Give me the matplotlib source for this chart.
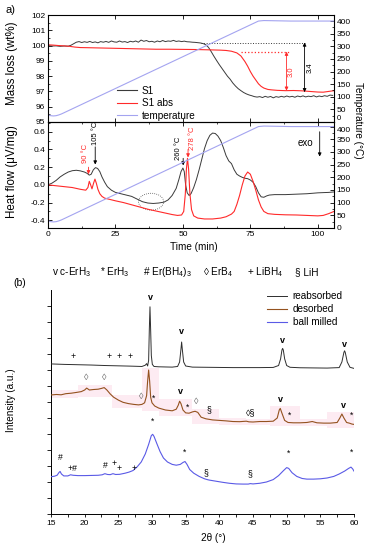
import numpy as np
import matplotlib
matplotlib.use("Agg")
import matplotlib.pyplot as plt
from matplotlib.ticker import MultipleLocator
from matplotlib.lines import Line2D
from matplotlib.patches import Ellipse

plt.rcParams["font.family"] = ["Liberation Sans", "DejaVu Sans"]
plt.rcParams["mathtext.fontset"] = "custom"
plt.rcParams["mathtext.rm"] = "Liberation Sans"
plt.rcParams["mathtext.default"] = "regular"

# --- Daten Teil a) : TG ---
t_s1 = [0, 1.5, 3, 4.5, 6, 7.5, 8.5, 9.5, 10.5, 11.5, 12.5, 13.5, 14.5, 15.5, 16.5, 17.5,
        18.5, 19.5, 20.5, 21.5, 22.5, 23.5, 24.5, 25.5, 26.5, 27.5, 28.5, 29.5, 30.5, 31.5,
        32.5, 33.5, 34.5, 35.5, 36.5, 37.5, 38.5, 39.5, 40.5, 41.5, 42.5, 43.5, 44.5, 45.5,
        46.5, 47.5, 48.5, 49.5, 50.5, 51.5, 52.5, 53.5, 54.5, 55.5, 56.5, 57.5, 58.5, 59.5,
        60.5, 61.5, 62.5, 63.5, 64.5, 65.5, 66.5, 67.5, 68.5, 69.5, 70.5, 71.5, 72.5, 73.5,
        74.5, 75.5, 76.5, 77.5, 78.5, 79.5, 80.5, 81.5, 82.5, 83.5, 84.5, 85.5, 86.5, 87.5,
        88.5, 89.5, 90.5, 91.5, 92.5, 93.5, 94.5, 95.5, 96.5, 97.5, 98.5, 99.5, 100.5, 101.5,
        102.5, 103.5, 104.5, 105.5]
m_s1 = [100.00, 99.97, 99.98, 99.95, 99.97, 99.96, 100.02, 100.12, 100.22, 100.26, 100.20,
        100.25, 100.21, 100.27, 100.20, 100.24, 100.18, 100.26, 100.22, 100.27, 100.21, 100.30,
        100.24, 100.22, 100.30, 100.23, 100.26, 100.20, 100.28, 100.24, 100.30, 100.22, 100.36,
        100.28, 100.33, 100.25, 100.28, 100.22, 100.30, 100.25, 100.33, 100.26, 100.30, 100.28,
        100.34, 100.27, 100.30, 100.26, 100.29, 100.25, 100.24, 100.22, 100.21, 100.19, 100.17,
        100.13, 100.05, 99.88, 99.6, 99.3, 99.02, 98.75, 98.5, 98.25, 98.0, 97.8, 97.55, 97.35,
        97.18, 97.05, 96.93, 96.84, 96.77, 96.72, 96.66, 96.63, 96.66, 96.60, 96.68, 96.62,
        96.67, 96.58, 96.66, 96.62, 96.68, 96.63, 96.70, 96.64, 96.68, 96.62, 96.70, 96.65,
        96.71, 96.64, 96.69, 96.66, 96.72, 96.64, 96.70, 96.66, 96.72, 96.68, 96.76, 96.74]

t_abs = [0, 2, 4, 6, 8, 10, 12, 15, 20, 25, 30, 35, 40, 45, 50, 55, 60, 64, 66, 68, 70,
         71.5, 73, 74, 75, 76, 77, 78, 79, 80, 81.5, 83, 85, 88, 91, 94, 97, 100, 102, 104, 106]
m_abs = [100.05, 100.03, 100.0, 99.98, 99.95, 99.9, 99.87, 99.86, 99.84, 99.82, 99.8, 99.78,
         99.76, 99.76, 99.75, 99.74, 99.72, 99.7, 99.68, 99.63, 99.52, 99.32, 98.95, 98.65,
         98.3, 98.0, 97.75, 97.5, 97.33, 97.22, 97.13, 97.1, 97.07, 97.05, 97.06, 97.04,
         97.0, 96.96, 96.95, 97.0, 97.05]

t_temp = [0, 1, 2, 3, 4, 5, 6, 78, 80, 90, 106]
temp = [28, 25, 24, 25, 28, 32, 37, 400, 402, 400, 400]

# --- Daten Teil a) : DSC ---
t_hf_s1 = [0, 1.5, 3, 4.5, 6, 7.5, 9, 10.5, 12, 13.5, 14.5, 15.3, 16, 16.8, 17.6, 18.4,
           19.2, 20, 21, 22, 23.5, 25, 27, 29, 31, 33, 35, 37, 39, 41, 43, 44.5, 46, 47.5,
           48.5, 49.3, 50.0, 50.5, 51.0, 51.6, 52.3, 53, 54, 55, 56, 57, 58, 59, 60, 61, 62,
           63, 64, 65, 66, 67, 68, 69, 70, 71, 72, 73, 74, 75, 76, 77, 78, 79, 80, 81, 82,
           84, 88, 92, 96, 100, 104, 106]
hf_s1 = [0.0, 0.02, 0.05, 0.09, 0.12, 0.145, 0.16, 0.165, 0.158, 0.145, 0.13, 0.11, 0.12,
         0.17, 0.195, 0.185, 0.15, 0.09, 0.03, -0.02, -0.06, -0.085, -0.1, -0.115, -0.13,
         -0.16, -0.19, -0.205, -0.21, -0.205, -0.195, -0.17, -0.12, -0.04, 0.06, 0.15, 0.19,
         0.15, 0.0, -0.09, -0.12, -0.1, -0.03, 0.06, 0.17, 0.29, 0.41, 0.5, 0.56, 0.585, 0.58,
         0.55, 0.5, 0.42, 0.33, 0.27, 0.24, 0.17, 0.12, 0.1, 0.085, 0.075, 0.07, 0.055, 0.03,
         -0.02, -0.09, -0.135, -0.14, -0.125, -0.115, -0.11, -0.11, -0.105, -0.1, -0.09,
         -0.085, -0.08]

t_hf_abs = [0, 3, 6, 9, 12, 14, 14.8, 15.3, 15.8, 16.3, 16.9, 17.4, 17.9, 18.5, 19.2, 20,
            21, 23, 25, 28, 31, 34, 37, 40, 43, 46, 48, 49.5, 50.3, 50.9, 51.3, 51.7, 52.1,
            52.6, 53.2, 54, 55.5, 58, 61, 64, 66, 68, 69, 70, 71, 72, 73, 74, 75, 76, 77,
            78, 79, 80, 81.5, 84, 88, 92, 96, 100, 102, 104, 106]
hf_abs = [0.0, -0.01, -0.02, -0.03, -0.05, -0.06, -0.03, 0.04, 0.0, -0.045, 0.02, 0.065,
          0.02, -0.05, -0.1, -0.13, -0.15, -0.165, -0.18, -0.2, -0.225, -0.25, -0.275, -0.295,
          -0.315, -0.335, -0.345, -0.34, -0.3, -0.1, 0.18, 0.3, 0.18, -0.1, -0.28, -0.35,
          -0.375, -0.385, -0.385, -0.375, -0.36, -0.33, -0.3, -0.22, -0.12, 0.0, 0.1, 0.145,
          0.12, 0.04, -0.06, -0.17, -0.25, -0.3, -0.325, -0.333, -0.338, -0.34, -0.345,
          -0.35, -0.345, -0.325, -0.3]

# --- Daten Teil b) : XRD ---
tt_reab = [15, 17, 19, 21, 23, 25, 27, 28.5, 29.0, 29.2, 29.35, 29.5, 29.6, 29.7, 29.8,
           29.9, 30.05, 30.3, 31, 32, 33, 33.8, 34.1, 34.3, 34.4, 34.5, 34.7, 35, 36, 38, 40,
           42, 44, 46, 48, 48.8, 49.1, 49.3, 49.4, 49.5, 49.7, 50, 50.5, 52, 54, 56, 57.8,
           58.2, 58.5, 58.6, 58.7, 59, 59.4, 60]
i_reab = [9.38, 9.35, 9.33, 9.31, 9.28, 9.26, 9.24, 9.22, 9.3, 9.4, 9.25, 9.6, 11.5, 12.95,
          11.5, 9.9, 9.35, 9.22, 9.2, 9.19, 9.18, 9.22, 9.5, 10.3, 10.75, 10.3, 9.5, 9.25,
          9.18, 9.17, 9.16, 9.15, 9.15, 9.15, 9.16, 9.28, 9.7, 10.25, 10.35, 10.25, 9.7, 9.28,
          9.17, 9.14, 9.13, 9.12, 9.15, 9.5, 10.1, 10.2, 10.1, 9.5, 9.17, 9.1]

tt_des = [15, 15.8, 16.5, 17.2, 18, 18.8, 19.5, 20, 20.3, 20.7, 21.3, 22, 22.5, 22.9, 23.3,
          23.8, 24.3, 25, 25.7, 26.5, 27.3, 28, 28.5, 28.9, 29.2, 29.35, 29.5, 29.65, 29.8,
          30.0, 30.4, 31, 32, 33, 33.6, 33.9, 34.1, 34.3, 34.6, 35, 35.5, 36, 36.4, 36.8,
          37.3, 38, 39, 40, 41, 42, 43, 44, 44.4, 45, 46, 47, 48, 48.6, 48.9, 49.05, 49.3,
          49.7, 50.2, 51, 52, 53, 53.8, 54.5, 55.5, 56.5, 57.5, 57.9, 58.2, 58.5, 58.9, 59.3,
          59.7, 60]
i_des = [7.44, 7.47, 7.45, 7.52, 7.55, 7.6, 7.65, 7.75, 7.87, 7.75, 7.78, 7.8, 7.85, 7.9,
         7.75, 7.5, 7.3, 7.12, 6.98, 6.9, 6.85, 6.82, 6.85, 6.95, 7.4, 8.3, 9.0, 8.3, 7.3,
         6.95, 6.75, 6.62, 6.5, 6.45, 6.55, 6.8, 7.05, 6.9, 6.5, 6.32, 6.3, 6.38, 6.42, 6.35,
         6.05, 5.95, 5.88, 5.85, 5.82, 5.78, 5.77, 5.8, 5.76, 5.75, 5.78, 5.78, 5.8, 6.0, 6.5,
         6.6, 6.3, 5.85, 5.72, 5.7, 5.7, 5.72, 5.78, 5.7, 5.68, 5.68, 5.72, 6.0, 6.25, 6.0,
         5.72, 5.68, 5.62, 5.6]

tt_bm = [15, 15.5, 15.9, 16.2, 16.35, 16.55, 16.9, 17.5, 17.9, 18.3, 19, 20, 21, 22, 22.6,
         23, 23.4, 23.8, 24.2, 24.6, 25.2, 26, 26.6, 27.2, 27.8, 28.4, 29, 29.5, 29.9, 30.1,
         30.3, 30.7, 31.2, 31.7, 32.3, 33, 33.6, 34.2, 34.6, 34.9, 35.2, 35.6, 36.2, 37,
         37.8, 38.2, 38.5, 39.5, 40.5, 41.5, 42.5, 43.5, 44.3, 44.6, 45, 46, 47, 48, 48.8,
         49.5, 50.0, 50.3, 50.8, 51.5, 52.3, 53, 54, 55, 56, 57, 57.8, 58.6, 59.2, 59.55,
         59.8, 60]
i_bm = [2.33, 2.36, 2.42, 2.6, 2.66, 2.5, 2.38, 2.38, 2.45, 2.42, 2.4, 2.4, 2.41, 2.42,
        2.45, 2.52, 2.47, 2.46, 2.52, 2.47, 2.48, 2.55, 2.62, 2.72, 2.95, 3.25, 3.75, 4.35,
        4.9, 4.98, 4.85, 4.42, 3.9, 3.5, 3.25, 3.1, 3.05, 3.1, 3.22, 3.28, 3.1, 2.78, 2.55,
        2.35, 2.2, 2.15, 2.12, 2.05, 1.98, 1.92, 1.88, 1.87, 1.87, 1.9, 1.88, 1.92, 2.0,
        2.15, 2.4, 2.7, 2.9, 2.85, 2.58, 2.35, 2.22, 2.18, 2.18, 2.2, 2.25, 2.35, 2.5, 2.68,
        2.85, 2.93, 2.82, 2.68]

# Phasen-Markierungen (2theta, Intensitaet, Symbol)
marks_reab = [(18.3, 9.87, "+"), (23.6, 9.83, "+"), (25.1, 9.83, "+"), (26.8, 9.83, "+"),
              (29.7, 13.5, "v"), (34.4, 11.4, "v"), (49.4, 10.87, "v"), (58.6, 10.6, "v")]
marks_des = [(20.3, 8.5, "◊"), (22.9, 8.5, "◊"), (28.4, 7.37, "◊"), (30.2, 7.23, "*"),
             (34.2, 7.65, "v"), (35.3, 6.7, "*"), (36.6, 7.0, "◊"), (38.5, 6.5, "§"),
             (44.6, 6.33, "◊§"), (49.1, 7.17, "v"), (50.4, 6.19, "*"), (58.4, 6.81, "v"),
             (59.7, 6.19, "*")]
marks_bm = [(30.1, 5.77, "*"), (16.4, 3.52, "#"), (18.2, 2.85, "+#"), (23.1, 3.06, "#"),
            (24.3, 3.13, "+"), (25.1, 2.85, "+"), (27.3, 2.85, "+"), (34.9, 3.83, "*"),
            (38.0, 2.58, "§"), (44.6, 2.54, "§"), (50.3, 3.77, "*"), (59.6, 3.83, "*")]

c_s1 = "#3a3a3a"
c_abs = "#ff2a2a"
c_temp = "#a4a4f0"
c_reab = "#2e2e2e"
c_des = "#94521f"
c_bm = "#5a5ae6"

fig = plt.figure(figsize=(3.71, 5.5), dpi=100)
W, H = 371.0, 550.0


def box(x0, y0, x1, y1):
    return [x0 / W, 1 - y1 / H, (x1 - x0) / W, (y1 - y0) / H]


ax_tg = fig.add_axes(box(48, 15, 334, 122))
ax_dsc = fig.add_axes(box(48, 122, 334, 228))
ax_tg_t = ax_tg.twinx()
ax_dsc_t = ax_dsc.twinx()

# TG
ax_tg.plot(t_s1, m_s1, color=c_s1, lw=0.7)
ax_tg.plot(t_abs, m_abs, color=c_abs, lw=0.8)
ax_tg_t.plot(t_temp, temp, color=c_temp, lw=0.8)
ax_tg.set_xlim(0, 106)
ax_tg.set_ylim(95, 102)
ax_tg_t.set_ylim(0, 424)

# Hilfslinien und Pfeile
ax_tg.plot([56.7, 95.1], [100.2, 100.2], ls=":", color=c_s1, lw=0.7)
ax_tg.plot([71.6, 89.2], [99.6, 99.6], ls=":", color=c_abs, lw=0.9)
ax_tg.annotate("", xy=(88.4, 97.05), xytext=(88.4, 99.6),
               arrowprops=dict(arrowstyle="<|-|>", color=c_abs, lw=0.6, mutation_scale=5,
                               shrinkA=0, shrinkB=0))
ax_tg.annotate("", xy=(95.1, 96.95), xytext=(95.1, 100.2),
               arrowprops=dict(arrowstyle="<|-|>", color="black", lw=0.6, mutation_scale=5,
                               shrinkA=0, shrinkB=0))
ax_tg.text(90.2, 98.3, "3.0", color=c_abs, fontsize=5.5, rotation=90, ha="center", va="center")
ax_tg.text(97.2, 98.55, "3.4", color="black", fontsize=5.5, rotation=90, ha="center", va="center")

handles = [Line2D([], [], color=c_s1, lw=0.8), Line2D([], [], color=c_abs, lw=0.8),
           Line2D([], [], color=c_temp, lw=0.8)]
ax_tg_t.legend(handles, ["S1", "S1 abs", "temperature"], loc="center left",
               bbox_to_anchor=(0.24, 0.175), frameon=False, fontsize=7.2, handlelength=2.0,
               handletextpad=0.5, labelspacing=0.25, borderpad=0, borderaxespad=0)

# DSC
ax_dsc.plot(t_hf_s1, hf_s1, color=c_s1, lw=0.7)
ax_dsc.plot(t_hf_abs, hf_abs, color=c_abs, lw=0.8)
ax_dsc_t.plot(t_temp, temp, color=c_temp, lw=0.8)
ax_dsc.set_xlim(0, 106)
ax_dsc.set_ylim(-0.487, 0.71)
ax_dsc_t.set_ylim(0, 418)

ax_dsc.add_patch(Ellipse((38.2, -0.19), 9.3, 0.19, fill=False, ls=(0, (1, 1.5)),
                         color="#555555", lw=0.6))


def pfeil(ax, x, y0, y1, col):
    ax.annotate("", xy=(x, y1), xytext=(x, y0),
                arrowprops=dict(arrowstyle="-|>", color=col, lw=0.6, mutation_scale=5,
                                shrinkA=0, shrinkB=0))


pfeil(ax_dsc, 15.0, 0.2, 0.12, c_abs)
ax_dsc.text(13.9, 0.35, "90 °C", color=c_abs, fontsize=5.5, rotation=90, ha="center", va="center")
pfeil(ax_dsc, 17.5, 0.43, 0.23, "black")
ax_dsc.text(17.7, 0.58, "105 °C", color="black", fontsize=5.5, rotation=90, ha="center", va="center")
pfeil(ax_dsc, 50.1, 0.3, 0.22, "black")
ax_dsc.text(48.4, 0.41, "260 °C", color="black", fontsize=5.5, rotation=90, ha="center", va="center")
pfeil(ax_dsc, 51.9, 0.4, 0.31, c_abs)
ax_dsc.text(53.6, 0.53, "278 °C", color=c_abs, fontsize=5.5, rotation=90, ha="center", va="center")
pfeil(ax_dsc, 100.7, 0.6, 0.32, "black")
ax_dsc.text(95.5, 0.47, "exo", color="black", fontsize=7, ha="center", va="center")

for a in (ax_tg, ax_dsc):
    a.xaxis.set_major_locator(MultipleLocator(25))
    a.tick_params(direction="in", labelsize=6, length=3, width=0.6, top=True, pad=2)
    a.tick_params(which="minor", direction="in", length=1.5, width=0.5, top=True)
    for s in a.spines.values():
        s.set_linewidth(0.7)
for a in (ax_tg_t, ax_dsc_t):
    a.yaxis.set_major_locator(MultipleLocator(50))
    a.yaxis.set_minor_locator(MultipleLocator(25))
    a.tick_params(direction="in", labelsize=6, length=3, width=0.6, pad=2)
    a.tick_params(which="minor", direction="in", length=1.5, width=0.5)
ax_tg.tick_params(labelbottom=False)
ax_tg.yaxis.set_major_locator(MultipleLocator(1))
ax_tg.yaxis.set_minor_locator(MultipleLocator(0.5))
ax_tg_t.set_yticks([0, 50, 100, 150, 200, 250, 300, 350, 400])
ax_dsc.yaxis.set_major_locator(MultipleLocator(0.2))
ax_dsc.yaxis.set_minor_locator(MultipleLocator(0.1))
ax_dsc.set_yticks([-0.4, -0.2, 0.0, 0.2, 0.4, 0.6])
ax_dsc.set_yticklabels(["-0.4", "-0.2", "0.0", "0.2", "0.4", "0.6"])
ax_dsc_t.set_yticks([0, 50, 100, 150, 200, 250, 300, 350, 400])
ax_dsc.xaxis.set_minor_locator(MultipleLocator(12.5))

# Beschriftungen an der Panelgrenze etwas auseinanderruecken
fig.canvas.draw()
ax_tg_t.get_yticklabels()[0].set_va("bottom")
ax_tg_t.get_yticklabels()[0].set_fontsize(5.5)
ax_dsc_t.get_yticklabels()[-1].set_va("top")
ax_tg.get_yticklabels()[0].set_va("bottom")

fig.text(11 / W, 1 - 10 / H, "a)", fontsize=8, ha="center", va="center")
fig.text(12 / W, 1 - 63 / H, "Mass loss (wt%)", fontsize=8.3, rotation=90, ha="center", va="center")
fig.text(12 / W, 1 - 172 / H, "Heat flow (μV/mg)", fontsize=8.3, rotation=90, ha="center", va="center")
fig.text(358 / W, 1 - 120 / H, "Temperature (°C)", fontsize=7.2, rotation=270, ha="center", va="center")
fig.text(194 / W, 1 - 247 / H, "Time (min)", fontsize=7.2, ha="center", va="center")

# Teil b)
ax_x = fig.add_axes(box(51, 290, 354, 514))
tt_des_a = np.array(tt_des)
i_des_a = np.array(i_des)
kanten = [15, 19, 24, 28.5, 31, 36, 40, 44, 47.5, 52, 56, 60]
for k0, k1 in zip(kanten[:-1], kanten[1:]):
    sel = (tt_des_a >= k0) & (tt_des_a <= k1)
    ax_x.fill_between([k0, k1], i_des_a[sel].min() - 0.2, i_des_a[sel].max() + 0.15,
                      color="#fde6ef", alpha=0.8, lw=0, zorder=1)
ax_x.plot(tt_reab, i_reab, color=c_reab, lw=0.7, label="reabsorbed", zorder=3)
ax_x.plot(tt_des, i_des, color=c_des, lw=0.8, label="desorbed", zorder=3)
ax_x.plot(tt_bm, i_bm, color=c_bm, lw=0.8, label="ball milled", zorder=3)

for liste in (marks_reab, marks_des, marks_bm):
    for x, y, s in liste:
        col = "#666666" if s == "◊" else "black"
        fs = 6.5 if s in ("v", "◊", "◊§") else 6.2
        fw = "bold" if s == "v" else "normal"
        ax_x.text(x, y, s, fontsize=fs, color=col, ha="center", va="center", fontweight=fw,
                  zorder=4)

ax_x.set_xlim(15, 60)
ax_x.set_ylim(0, 14)
ax_x.set_yticks(range(0, 14))
ax_x.set_yticklabels([])
ax_x.xaxis.set_major_locator(MultipleLocator(5))
ax_x.xaxis.set_minor_locator(MultipleLocator(2.5))
ax_x.tick_params(axis="y", direction="out", length=3, width=0.6)
ax_x.tick_params(axis="x", direction="out", length=2.5, width=0.6, labelsize=6, pad=2)
ax_x.tick_params(axis="x", which="minor", direction="out", length=2.5, width=0.6)
ax_x.spines["top"].set_visible(False)
ax_x.spines["right"].set_visible(False)
for s in ("left", "bottom"):
    ax_x.spines[s].set_linewidth(0.7)
ax_x.legend(loc="center left", bbox_to_anchor=(0.713, 0.915), frameon=False, fontsize=7.2,
            handlelength=2.0, handletextpad=0.55, labelspacing=0.3, borderpad=0,
            borderaxespad=0)

kopf = [(52, "v c-ErH$_3$"), (100, "* ErH$_3$"), (143, "# Er(BH$_4$)$_3$"),
        (203, "◊ ErB$_4$"), (247, "+ LiBH$_4$"), (295, "§ LiH")]
for x, s in kopf:
    fig.text(x / W, 1 - 272 / H, s, fontsize=7.2, ha="left", va="center")
fig.text(20 / W, 1 - 283 / H, "(b)", fontsize=7.5, ha="center", va="center")
fig.text(11 / W, 1 - 400 / H, "Intensity (a.u.)", fontsize=7.2, rotation=90, ha="center", va="center")
fig.text(213 / W, 1 - 538 / H, "2θ (°)", fontsize=7.2, ha="center", va="center")

fig.savefig("out.png", dpi=100)
